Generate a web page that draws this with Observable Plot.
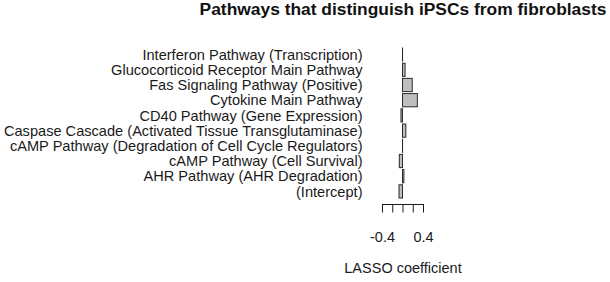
<!DOCTYPE html>
<html>
<head>
<meta charset="utf-8">
<script src="https://cdn.jsdelivr.net/npm/d3@7"></script>
<script src="https://cdn.jsdelivr.net/npm/@observablehq/plot@0.6"></script>
<style>
  html, body { margin: 0; padding: 0; background: #fff; }
  #chart { width: 610px; height: 282px; overflow: hidden; }
</style>
</head>
<body>
<div id="chart"></div>
<script>
const title = "Pathways that distinguish iPSCs from fibroblasts";
const xLabel = "LASSO coefficient";
const pathways = [
  "Interferon Pathway (Transcription)",
  "Glucocorticoid Receptor Main Pathway",
  "Fas Signaling Pathway (Positive)",
  "Cytokine Main Pathway",
  "CD40 Pathway (Gene Expression)",
  "Caspase Cascade (Activated Tissue Transglutaminase)",
  "cAMP Pathway (Degradation of Cell Cycle Regulators)",
  "cAMP Pathway (Cell Survival)",
  "AHR Pathway (AHR Degradation)",
  "(Intercept)"
];
const coefficients = [0.001, 0.05, 0.19, 0.29, -0.03, 0.065, 0.001, -0.062, 0.027, -0.068];
const tickValues = [-0.4, -0.2, 0, 0.2, 0.4];
const tickLabels = ["-0.4", "", "", "", "0.4"];

const data = pathways.map((p, i) => ({pathway: p, value: coefficients[i]}));

const chart = Plot.plot({
  width: 610,
  height: 282,
  marginLeft: 382,
  marginRight: 187,
  marginTop: 47,
  marginBottom: 78,
  style: {fontFamily: "'Liberation Sans', Arial, sans-serif", fontSize: "14.5px", color: "#1a1a1a", background: "#fff", overflow: "visible"},
  x: {domain: [-0.4, 0.4]},
  y: {domain: pathways, range: [47, 199], paddingInner: 0.13, paddingOuter: 0.065, round: false},
  marks: [
    Plot.barX(data, {x: "value", y: "pathway", fill: "#bebebe", stroke: "#2a2a2a", strokeWidth: 1}),
    Plot.axisY({tickSize: 0, tickPadding: 20, label: null, fontSize: 14.6}),
    Plot.frame({anchor: "bottom", stroke: "#1a1a1a"}),
    Plot.axisX({
      ticks: tickValues,
      tickFormat: (d, i) => tickLabels[i],
      tickSize: 8.5,
      tickPadding: 19,
      fontSize: 14.5,
      label: xLabel,
      labelAnchor: "center",
      labelArrow: "none",
      labelOffset: 68
    }),
    Plot.text([title], {frameAnchor: "top", dy: -38, lineAnchor: "middle", fontWeight: "bold", fontSize: 17.4, fill: "#111"})
  ]
});
document.getElementById("chart").appendChild(chart);
</script>
</body>
</html>
